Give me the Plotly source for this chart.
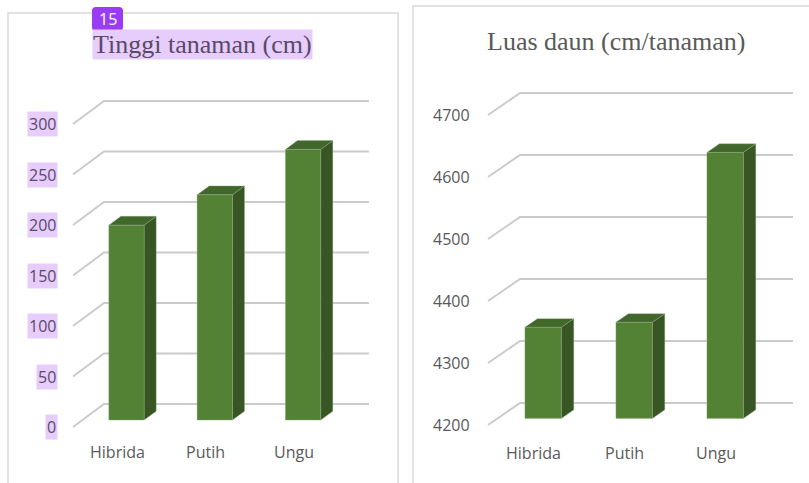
import plotly.graph_objects as go

# ---------------- data ----------------
categories = ["Hibrida", "Putih", "Ungu"]
tinggi_tanaman = [193, 223, 268]
luas_daun = [4347, 4355, 4629]
tinggi_ticks = [0, 50, 100, 150, 200, 250, 300]
luas_ticks = [4200, 4300, 4400, 4500, 4600, 4700]
titles = ["Tinggi tanaman (cm)", "Luas daun (cm/tanaman)"]
badge_text = "15"

# ---------------- style / layout ----------------
W, H = 809, 483
FRONT = "#548235"
TOP = "#42672a"
SIDE = "#375623"
GRID = "#cbcbcb"
TXT = "#595959"
HL_BG = "#e6cdfc"
HL_TXT = "#5a4a68"

panels = [
    dict(values=tinggi_tanaman, ticks=tinggi_ticks, title=titles[0], xa="x", ya="y",
         dom=(0, 405), front_left=73, slot=88.3, y_base=427, ppu=1.01,
         depth_px=(31, 23), tick_shift=-15, cat_shift=-25, title_xy=(203, 45),
         highlight=True),
    dict(values=luas_daun, ticks=luas_ticks, title=titles[1], xa="x2", ya="y2",
         dom=(405, 809), front_left=488, slot=91.0, y_base=425, ppu=0.62,
         depth_px=(32, 22), tick_shift=-16, cat_shift=-28, title_xy=(616, 41),
         highlight=False),
]

fig = go.Figure()
annotations = []
layout_axes = {}

BAR_W = 0.4      # bar width in category slots
D_FRONT = 0.3    # depth of bar front face (fraction from front)
D_BAR = 0.39     # bar depth (fraction)

for k, p in enumerate(panels):
    base = p["ticks"][0]
    n = len(categories)
    s0 = -0.5 - (p["front_left"] - p["dom"][0]) / p["slot"]
    s1 = s0 + (p["dom"][1] - p["dom"][0]) / p["slot"]
    v_bot = base - (H - p["y_base"]) / p["ppu"]
    v_top = base + p["y_base"] / p["ppu"]
    dx = p["depth_px"][0] / p["slot"]
    dy = p["depth_px"][1] / p["ppu"]
    xa, ya = p["xa"], p["ya"]
    suffix = "" if k == 0 else str(k + 1)
    layout_axes["xaxis" + suffix] = dict(domain=[p["dom"][0] / W, p["dom"][1] / W],
                                         range=[s0, s1], visible=False, fixedrange=True,
                                         anchor="y" + suffix)
    layout_axes["yaxis" + suffix] = dict(domain=[0, 1], range=[v_bot, v_top], visible=False,
                                         fixedrange=True, anchor="x" + suffix)

    # gridlines (floor diagonal + back wall)
    for v in p["ticks"]:
        fig.add_trace(go.Scatter(
            x=[-0.5, -0.5 + dx, n - 0.5 + dx], y=[v, v + dy, v + dy],
            mode="lines", line=dict(color=GRID, width=2),
            xaxis=xa, yaxis=ya, hoverinfo="skip", showlegend=False))

    # 3D bars
    for i, val in enumerate(p["values"]):
        xl = i - BAR_W / 2 + D_FRONT * dx
        xr = i + BAR_W / 2 + D_FRONT * dx
        yb = base + D_FRONT * dy
        yt = val + D_FRONT * dy
        ox, oy = D_BAR * dx, D_BAR * dy
        faces = [
            ([xr, xr + ox, xr + ox, xr, xr], [yb, yb + oy, yt + oy, yt, yb], SIDE),
            ([xl, xr, xr + ox, xl + ox, xl], [yt, yt, yt + oy, yt + oy, yt], TOP),
            ([xl, xr, xr, xl, xl], [yb, yb, yt, yt, yb], FRONT),
        ]
        for fx, fy, col in faces:
            fig.add_trace(go.Scatter(
                x=fx, y=fy, fill="toself", fillcolor=col, mode="lines",
                line=dict(color="rgba(150,170,140,0.6)", width=0.6),
                xaxis=xa, yaxis=ya, hoverinfo="skip", showlegend=False))

    # tick labels
    for v in p["ticks"]:
        a = dict(x=-0.5, y=v, xref=xa, yref=ya, text=str(v), showarrow=False,
                 xanchor="right", yanchor="middle", xshift=p["tick_shift"],
                 font=dict(family="Open Sans", size=16, color=TXT))
        if p["highlight"]:
            a.update(bgcolor=HL_BG, borderpad=1, font=dict(family="Open Sans", size=16, color=HL_TXT))
        annotations.append(a)

    # category labels
    for i, c in enumerate(categories):
        annotations.append(dict(x=i, y=base, xref=xa, yref=ya, text=c, showarrow=False,
                                xanchor="center", yanchor="middle", yshift=p["cat_shift"],
                                font=dict(family="Open Sans", size=16, color=TXT)))

    # title
    t = dict(x=p["title_xy"][0] / W, y=1 - p["title_xy"][1] / H, xref="paper", yref="paper",
             text=p["title"], showarrow=False, xanchor="center", yanchor="middle",
             font=dict(family="Liberation Serif", size=26, color=TXT))
    if p["highlight"]:
        t.update(bgcolor=HL_BG, borderpad=0, font=dict(family="Liberation Serif", size=26, color=HL_TXT))
    annotations.append(t)


# badge (rounded rectangle + text)
def px_to_paper(x, y):
    return x / W, 1 - y / H


bx0, by0, bx1, by1, r = 92, 7, 123, 31, 4
pts = []
def P(x, y):
    px, py = px_to_paper(x, y)
    return f"{px:.5f},{py:.5f}"
badge_path = (f"M {P(bx0 + r, by0)} L {P(bx1 - r, by0)} Q {P(bx1, by0)} {P(bx1, by0 + r)} "
              f"L {P(bx1, by1 - r)} Q {P(bx1, by1)} {P(bx1 - r, by1)} "
              f"L {P(bx0 + r, by1)} Q {P(bx0, by1)} {P(bx0, by1 - r)} "
              f"L {P(bx0, by0 + r)} Q {P(bx0, by0)} {P(bx0 + r, by0)} Z")

annotations.append(dict(x=(bx0 + bx1) / 2 / W, y=1 - (by0 + by1) / 2 / H, xref="paper", yref="paper",
                        text=badge_text, showarrow=False, xanchor="center", yanchor="middle",
                        font=dict(family="Open Sans", size=16, color="white")))

shapes = [
    dict(type="rect", xref="paper", yref="paper", x0=8 / W, x1=398 / W, y0=-0.1, y1=1 - 13 / H,
         line=dict(color="#d9d9d9", width=1.5), fillcolor="rgba(0,0,0,0)", layer="below"),
    dict(type="rect", xref="paper", yref="paper", x0=413 / W, x1=1.1, y0=-0.1, y1=1 - 6 / H,
         line=dict(color="#d9d9d9", width=1.5), fillcolor="rgba(0,0,0,0)", layer="below"),
    dict(type="path", xref="paper", yref="paper", path=badge_path,
         fillcolor="#9b3cf5", line=dict(width=0), layer="above"),
]

fig.update_layout(width=W, height=H, margin=dict(l=0, r=0, t=0, b=0),
                  paper_bgcolor="white", plot_bgcolor="rgba(0,0,0,0)",
                  annotations=annotations, shapes=shapes, showlegend=False,
                  **layout_axes)

fig.write_html("out.html", config={"displayModeBar": False},
               post_script="document.body.style.margin='0px';document.body.style.overflow='hidden';")
